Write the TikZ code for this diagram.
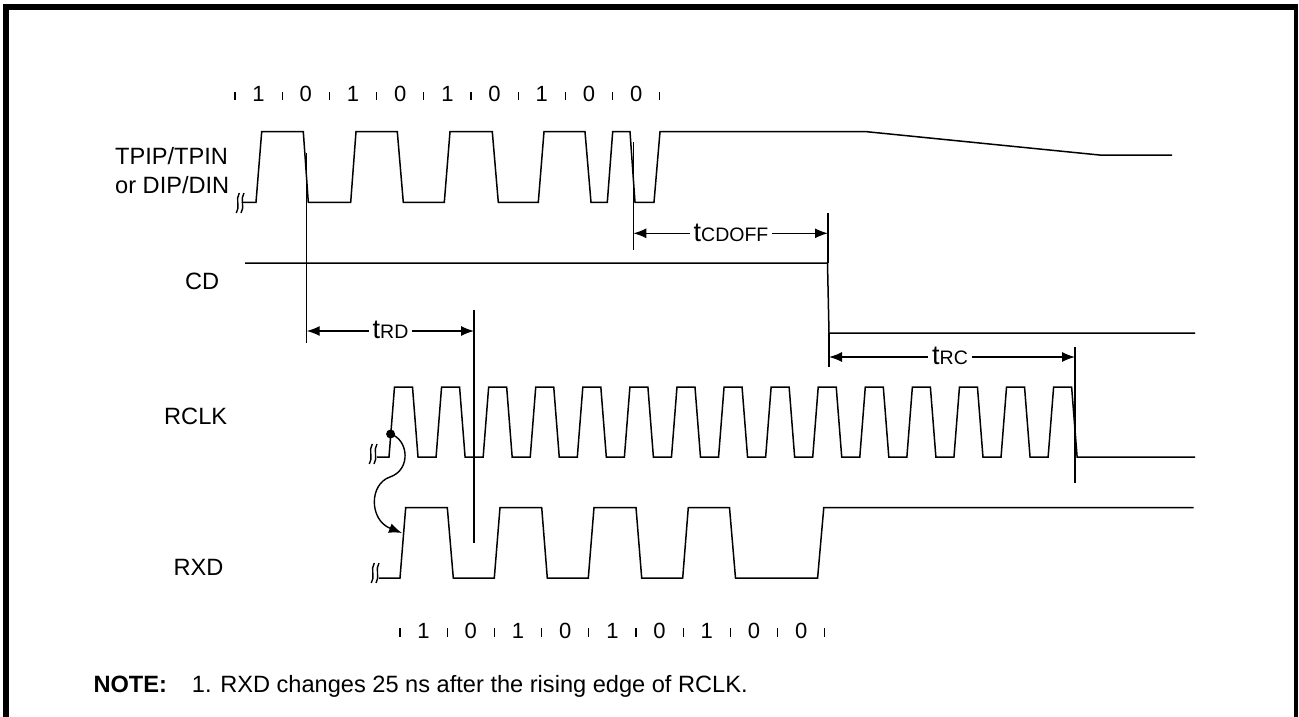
\documentclass[tikz,border=0pt]{standalone}
\usepackage{fontspec}
\setmainfont{Liberation Sans}
\usetikzlibrary{arrows.meta}
\begin{document}
\begin{tikzpicture}[x=1pt,y=-1pt,
  sig/.style={line width=1.5pt, line join=miter},
  refl/.style={line width=1.4pt},
  tickl/.style={line width=1.2pt},
  dimarr/.style={line width=1.4pt, {Latex[length=13pt,width=10pt]}-{Latex[length=13pt,width=10pt]}},
  lbl/.style={font=\fontsize{23.6}{28}\selectfont, inner sep=0pt, anchor=base west},
  bitlbl/.style={font=\fontsize{22}{24}\selectfont, inner sep=0pt},
  tlab/.style={font=\fontsize{27}{30}\selectfont, fill=white, inner xsep=4pt, inner ysep=2pt, anchor=base},
  brkmark/.pic={
    \draw[line width=1.4pt] (1.8,-10) .. controls (-2.4,-4) and (3,4) .. (-1.2,10);
    \draw[line width=1.4pt] (6.5,-10) .. controls (2.3,-4) and (7.7,4) .. (3.5,10);
  }
]
\useasboundingbox (0,0) rectangle (1299,717);

% frame
\draw[line width=6pt] (3,7) -- (1297.5,7);
\draw[line width=6pt] (6,4) -- (6,717);
\draw[line width=3.5pt] (1295.8,4) -- (1295.8,717);

% signal labels
\node[lbl] (tp) at (115,164) {TPIP/TPIN};
\node[lbl] (dp) at (115,193.3) {or DIP/DIN};
\node[lbl] (cd) at (185,289.3) {CD};
\node[lbl] (rclk) at (164,424) {RCLK};
\node[lbl] (rxd) at (173.3,575) {RXD};

% top bit row
\foreach \b [count=\i from 0] in {1,0,1,0,1,0,1,0,0}
  \node[bitlbl] (tb\i) at ({258.6+47.2*\i},93.7) {\b};
\foreach \i in {0,...,9}
  \draw[tickl] ({235+47.2*\i},92) -- ++(0,8);

% bottom bit row
\foreach \b [count=\i from 0] in {1,0,1,0,1,0,1,0,0}
  \node[bitlbl] (bb\i) at ({423.6+47.2*\i},631) {\b};
\foreach \i in {0,...,9}
  \draw[tickl] ({400+47.2*\i},628) -- ++(0,9);

% break marks
\pic (bk1) at (237.5,203) {brkmark};
\pic (bk2) at (370.5,454) {brkmark};
\pic (bk3) at (372.5,573) {brkmark};

% TPIP/TPIN or DIP/DIN
\draw[sig] (241.7,202.3) -- (256,202.3) -- (261.7,131.7) -- (303.3,131.7) -- (308.3,202.3)
  -- (350.7,202.3) -- (356,131.7) -- (397.3,131.7) -- (403.3,202.3)
  -- (444.3,202.3) -- (450,131.7) -- (492.3,131.7) -- (498.3,202.3)
  -- (538.3,202.3) -- (544,131.7) -- (585,131.7) -- (591,202.3)
  -- (607.3,202.3) -- (612.7,131.7) -- (630,131.7) -- (635,202.3)
  -- (654,202.3) -- (660,131.7) -- (866.6,131.7) -- (1099.3,155) -- (1172,155);

% CD
\draw[sig] (245,263) -- (827.5,263) -- (829,333) -- (1195,333);

% RCLK
\draw[sig] (377,457) -- (389,457)
  foreach \k in {0,...,14} { -- ({394.5+47.08*\k},387) -- ({412.5+47.08*\k},387)
    -- ({418+47.08*\k},457) -- ({389+47.08*(\k+1)},457) }
  -- (1195,457);

% RXD
\draw[sig] (379,578) -- (400,578) -- (405.7,507.5) -- (447.3,507.5) -- (453.3,578)
  -- (494.3,578) -- (500,507.5) -- (541.7,507.5) -- (547.3,578)
  -- (588.3,578) -- (594,507.5) -- (636,507.5) -- (641.7,578)
  -- (682.7,578) -- (688.3,507.5) -- (729.5,507.5) -- (735.5,578)
  -- (776.5,578) -- (817.6,578) -- (823.8,507.5) -- (1193.5,507.5);

% reference lines
\draw[refl] (306.7,153) -- (306.7,343);
\draw[refl] (474,310) -- (474,543);
\draw[refl] (633.3,141.7) -- (633.3,250);
\draw[refl] (828,213) -- (828,263);
\draw[refl] (829,333) -- (829,367);
\draw[refl] (1075,347) -- (1075,483);

% timing arrows
\coordinate (rdA) at (306.7,331);
\coordinate (rdB) at (474,331);
\coordinate (cdA) at (633.3,233.3);
\coordinate (cdB) at (828,233.3);
\coordinate (rcA) at (829,357);
\coordinate (rcB) at (1075,357);
\draw[dimarr] (rdA) -- (rdB);
\draw[dimarr] (cdA) -- (cdB);
\draw[dimarr] (rcA) -- (rcB);
\node[tlab] (trd) at (390.5,338) {t{\fontsize{19.5}{20}\selectfont RD}};
\node[tlab] (tcd) at (731,241.5) {t{\fontsize{19.5}{20}\selectfont CDOFF}};
\node[tlab] (trc) at (950,364.5) {t{\fontsize{19.5}{20}\selectfont RC}};

% RCLK -> RXD curved arrow
\coordinate (dotc) at (390.6,434);
\coordinate (rxe) at (402,533);
\fill (dotc) circle[radius=4.5pt];
\draw[refl, -{Latex[length=13pt,width=10pt]}] (dotc) .. controls (409,440) and (411,470) .. (390,477)
  .. controls (369,484) and (369,520) .. (rxe);

% note
\node[lbl, font=\fontsize{23.6}{28}\selectfont\bfseries] (note) at (93.3,692) {NOTE:};
\node[lbl] (notetxt) at (191.7,692) {1. RXD changes 25 ns after the rising edge of RCLK.};
\end{tikzpicture}
\end{document}
